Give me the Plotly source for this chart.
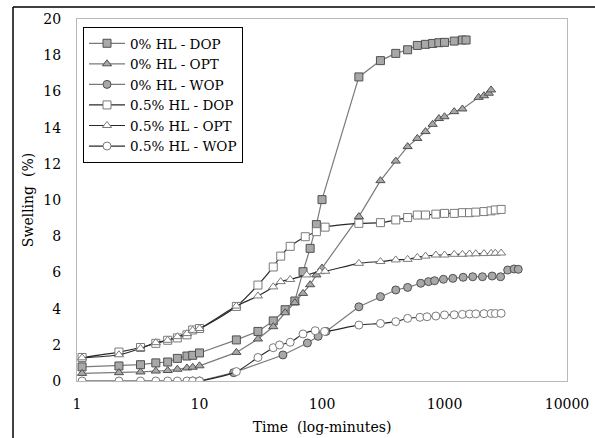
import plotly.graph_objects as go

t_early = [1.1, 2.2, 3.3, 4.4, 5.5, 6.6, 7.9, 8.8, 10]

names = ["0% HL - DOP", "0% HL - OPT", "0% HL - WOP",
         "0.5% HL - DOP", "0.5% HL - OPT", "0.5% HL - WOP"]

t_dop0 = t_early + [20, 30, 40, 50, 60, 70, 80, 90, 100, 200, 300, 400, 500, 600, 700, 800, 900, 1000, 1200, 1400, 1500]
v_dop0 = [0.78, 0.83, 0.9, 1.0, 1.05, 1.25, 1.38, 1.42, 1.55,
          2.27, 2.74, 3.32, 3.94, 4.42, 6.04, 7.33, 8.64, 10.02,
          16.8, 17.7, 18.1, 18.3, 18.54, 18.6, 18.65, 18.69, 18.71, 18.78, 18.84, 18.84]

t_opt0 = t_early + [20, 30, 40, 50, 60, 70, 80, 90, 100, 200, 300, 400, 500, 600, 700, 800, 900, 1000, 1200, 1400, 1900, 2100, 2300, 2400]
v_opt0 = [0.42, 0.46, 0.5, 0.55, 0.58, 0.65, 0.72, 0.76, 0.84,
          1.58, 2.32, 3.0, 3.77, 4.33, 4.84, 5.32, 5.86, 6.24,
          9.08, 11.07, 12.15, 12.95, 13.4, 13.78, 14.18, 14.5, 14.6, 14.88, 15.03, 15.67, 15.76, 15.9, 16.08]

t_wop0 = [8.8, 10, 19, 48, 76, 93, 108, 200, 300, 400, 500, 640, 740, 830, 980, 1170, 1420, 1700, 2040, 2450, 2870, 3280, 3700, 4000]
v_wop0 = [0, 0, 0.46, 1.44, 2.1, 2.47, 2.74, 4.1, 4.66, 5.03, 5.17, 5.4, 5.49, 5.54, 5.62, 5.67, 5.73, 5.76, 5.76, 5.8, 5.76, 6.13, 6.19, 6.17]

t_dop5 = t_early + [20, 30, 40, 46, 55, 73, 90, 106, 200, 300, 400, 500, 600, 700, 850, 1000, 1200, 1400, 1600, 1800, 2100, 2400, 2600, 2900]
v_dop5 = [1.3, 1.6, 1.85, 2.08, 2.25, 2.38, 2.55, 2.82, 2.9,
          4.12, 5.3, 6.3, 6.9, 7.44, 7.97, 8.25, 8.5, 8.71, 8.75, 8.9, 9.03, 9.17, 9.17,
          9.22, 9.26, 9.26, 9.3, 9.3, 9.33, 9.36, 9.4, 9.45, 9.48]

t_opt5 = t_early + [20, 30, 40, 46, 55, 75, 96, 106, 200, 300, 400, 500, 600, 700, 850, 1000, 1200, 1400, 1600, 1800, 2100, 2400, 2600, 2900]
v_opt5 = [1.28, 1.45, 1.8, 2.12, 2.25, 2.45, 2.62, 2.8, 2.9,
          4.14, 4.7, 5.2, 5.49, 5.61, 5.86, 6.04, 6.06, 6.5, 6.6, 6.69, 6.72, 6.83, 6.9,
          6.96, 6.96, 7.0, 7.0, 7.02, 7.03, 7.04, 7.05, 7.06, 7.07]

t_wop5 = t_early + [20, 30, 40, 45, 55, 70, 88, 105, 200, 300, 400, 500, 630, 720, 850, 1000, 1200, 1400, 1600, 1800, 2100, 2400, 2600, 2900]
v_wop5 = [0, 0, 0, 0, 0, 0, 0, 0, 0,
          0.52, 1.3, 1.84, 1.99, 2.14, 2.6, 2.78, 2.74, 3.09, 3.18, 3.28, 3.46, 3.52, 3.55,
          3.59, 3.65, 3.66, 3.68, 3.7, 3.71, 3.72, 3.73, 3.73, 3.74]

series = [
    (names[0], t_dop0, v_dop0, "square", True),
    (names[1], t_opt0, v_opt0, "triangle-up", True),
    (names[2], t_wop0, v_wop0, "circle", True),
    (names[3], t_dop5, v_dop5, "square", False),
    (names[4], t_opt5, v_opt5, "triangle-up", False),
    (names[5], t_wop5, v_wop5, "circle", False),
]

FONT = "DejaVu Serif, serif"

fig = go.Figure()
for name, t, v, sym, filled in series:
    if filled:
        line = dict(color="#7a7a7a", width=1.2, shape="linear")
        marker = dict(symbol=sym, size=8, color="#a8a8a8", line=dict(color="#505050", width=1))
    else:
        line = dict(color="#2a2a2a", width=1.2, shape="spline", smoothing=0.8)
        marker = dict(symbol=sym, size=8, color="white", line=dict(color="#7a7a7a", width=1))
    fig.add_trace(go.Scatter(x=t, y=v, mode="lines+markers", name=name, line=line, marker=marker))

W, H = 595, 438
L, R, T, B = 77, 567, 19, 381
pw, ph = R - L, B - T

def px(x):
    return (x - L) / pw

def py(y):
    return (B - y) / ph

fig.update_layout(
    width=W, height=H,
    margin=dict(l=L, r=W - R, t=T, b=H - B, autoexpand=False),
    paper_bgcolor="white", plot_bgcolor="white",
    font=dict(family=FONT, size=14, color="black"),
    showlegend=True,
    legend=dict(x=px(83), y=py(27), xanchor="left", yanchor="top",
                bgcolor="white", bordercolor="black", borderwidth=1,
                font=dict(family=FONT, size=13.5, color="black"), itemwidth=36,
                tracegroupgap=0),
    xaxis=dict(type="log", range=[0, 4], showgrid=False, zeroline=False, automargin=False,
               tickvals=[1, 10, 100, 1000, 10000], ticktext=["1", "10", "100", "1000", "10000"],
               ticks="outside", ticklen=10, tickcolor="rgba(0,0,0,0)",
               showline=True, linecolor="#b8b8b8", linewidth=1, mirror=True,
               title=dict(text="Time  (log-minutes)", font=dict(family=FONT, size=14), standoff=11)),
    yaxis=dict(range=[0, 20], dtick=2, showgrid=False, zeroline=False, automargin=False,
               ticks="outside", ticklen=12, tickcolor="rgba(0,0,0,0)",
               showline=True, linecolor="#b8b8b8", linewidth=1, mirror=True,
               title=dict(text="Swelling  (%)", font=dict(family=FONT, size=14), standoff=6)),
    shapes=[
        dict(type="line", xref="paper", yref="paper", x0=px(13), x1=px(13), y0=py(7), y1=py(440),
             line=dict(color="black", width=1.5)),
        dict(type="line", xref="paper", yref="paper", x0=px(13), x1=px(597), y0=py(7), y1=py(7),
             line=dict(color="black", width=1.5)),
    ],
)

fig.write_html("out.html")
